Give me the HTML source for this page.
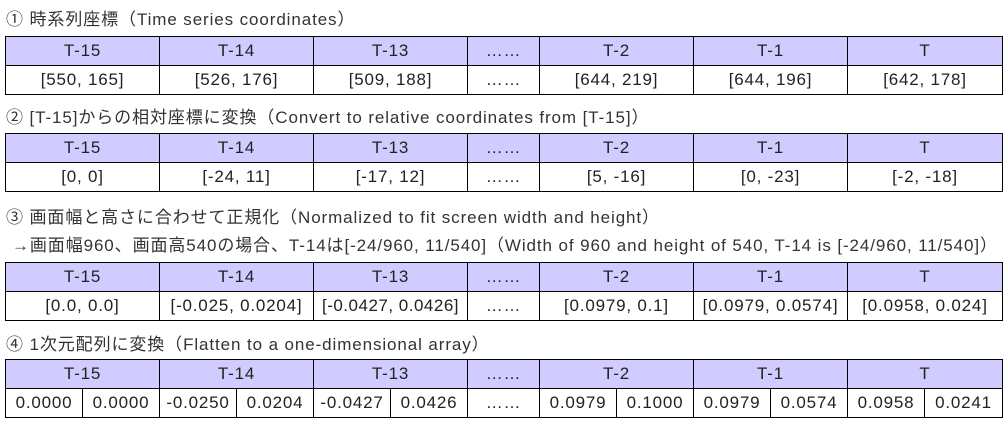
<!DOCTYPE html>
<html><head><meta charset="utf-8"><style>
body{margin:0;width:1008px;height:426px;background:#fff;position:relative;overflow:hidden;font-family:"Liberation Sans","Noto Sans CJK JP",sans-serif;color:#222}
.t{position:absolute;left:6px;font-size:17px;line-height:20px;white-space:nowrap;color:#333;letter-spacing:0.9px}
table{position:absolute;left:5px;border-collapse:collapse;table-layout:fixed;width:997px}
td{border:1.5px solid #000;height:28px;padding:0;text-align:center;font-size:17px;white-space:nowrap;letter-spacing:0.8px}
tr.h td{background:#d0ccff}
</style></head><body>
<div class="t" style="top:10px">① 時系列座標（Time series coordinates）</div>
<table style="top:36px"><colgroup><col style="width:154px"><col style="width:154px"><col style="width:154px"><col style="width:72px"><col style="width:154px"><col style="width:154px"><col style="width:155px"></colgroup>
<tr class="h"><td>T-15</td><td>T-14</td><td>T-13</td><td>……</td><td>T-2</td><td>T-1</td><td>T</td></tr>
<tr><td>[550, 165]</td><td>[526, 176]</td><td>[509, 188]</td><td>……</td><td>[644, 219]</td><td>[644, 196]</td><td>[642, 178]</td></tr></table>

<div class="t" style="top:108px">② [T-15]からの相対座標に変換（Convert to relative coordinates from [T-15]）</div>
<table style="top:133px"><colgroup><col style="width:154px"><col style="width:154px"><col style="width:154px"><col style="width:72px"><col style="width:154px"><col style="width:154px"><col style="width:155px"></colgroup>
<tr class="h"><td>T-15</td><td>T-14</td><td>T-13</td><td>……</td><td>T-2</td><td>T-1</td><td>T</td></tr>
<tr><td>[0, 0]</td><td>[-24, 11]</td><td>[-17, 12]</td><td>……</td><td>[5, -16]</td><td>[0, -23]</td><td>[-2, -18]</td></tr></table>

<div class="t" style="top:208px">③ 画面幅と高さに合わせて正規化（Normalized to fit screen width and height）</div>
<div class="t" style="top:236px;left:12px">→画面幅960、画面高540の場合、T-14は[-24/960, 11/540]（Width of 960 and height of 540, T-14 is [-24/960, 11/540]）</div>
<table style="top:262px"><colgroup><col style="width:154px"><col style="width:154px"><col style="width:154px"><col style="width:72px"><col style="width:154px"><col style="width:154px"><col style="width:155px"></colgroup>
<tr class="h"><td>T-15</td><td>T-14</td><td>T-13</td><td>……</td><td>T-2</td><td>T-1</td><td>T</td></tr>
<tr><td>[0.0, 0.0]</td><td>[-0.025, 0.0204]</td><td style="letter-spacing:0.5px">[-0.0427, 0.0426]</td><td>……</td><td>[0.0979, 0.1]</td><td>[0.0979, 0.0574]</td><td>[0.0958, 0.024]</td></tr></table>

<div class="t" style="top:335px">④ 1次元配列に変換（Flatten to a one-dimensional array）</div>
<table style="top:359px"><colgroup><col style="width:77px"><col style="width:77px"><col style="width:77px"><col style="width:77px"><col style="width:77px"><col style="width:77px"><col style="width:72px"><col style="width:77px"><col style="width:77px"><col style="width:77px"><col style="width:77px"><col style="width:77px"><col style="width:78px"></colgroup>
<tr class="h"><td colspan="2">T-15</td><td colspan="2">T-14</td><td colspan="2">T-13</td><td>……</td><td colspan="2">T-2</td><td colspan="2">T-1</td><td colspan="2">T</td></tr>
<tr><td>0.0000</td><td>0.0000</td><td>-0.0250</td><td>0.0204</td><td>-0.0427</td><td>0.0426</td><td>……</td><td>0.0979</td><td>0.1000</td><td>0.0979</td><td>0.0574</td><td>0.0958</td><td>0.0241</td></tr></table>
</body></html>
